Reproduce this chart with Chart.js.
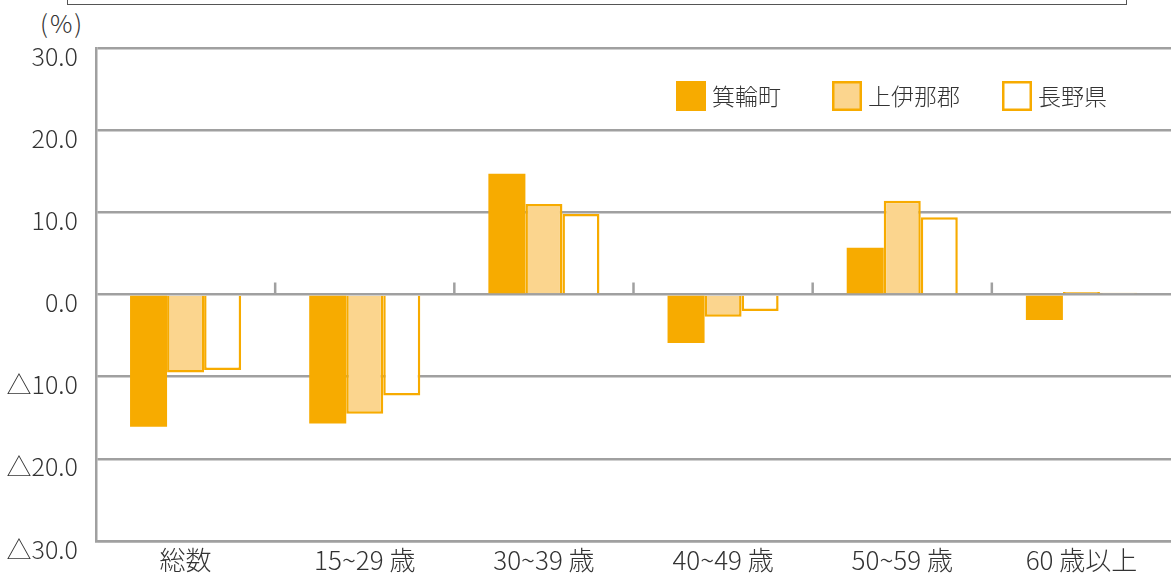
<!DOCTYPE html>
<html lang="ja">
<head>
<meta charset="utf-8">
<title>年齢別 増減率</title>
<script src="https://cdn.jsdelivr.net/npm/chart.js@4.4.1/dist/chart.umd.min.js"></script>
<style>
  html, body { margin: 0; padding: 0; background: #fff; }
  #wrap { position: relative; width: 1171px; height: 576px; overflow: hidden; }
  #titleBox { position: absolute; left: 67px; top: -40px; width: 1058px; height: 43px; border: 1.5px solid #555; }
  #unit { position: absolute; left: 40px; top: 4px; font: 300 25px "Noto Sans CJK JP"; color: #333; letter-spacing: 2px; }
  #chart { position: absolute; left: 0; top: 0; }
</style>
</head>
<body>
<div id="wrap">
  <div id="titleBox"></div>
  <div id="unit">(%)</div>
  <canvas id="chart" width="1171" height="576"></canvas>
</div>
<script>
const categories = ["総数", "15~29 歳", "30~39 歳", "40~49 歳", "50~59 歳", "60 歳以上"];
const seriesNames = ["箕輪町", "上伊那郡", "長野県"];
const minowa = [-16.1, -15.7, 14.7, -5.9, 5.7, -3.1];
const kamiina = [-9.5, -14.5, 11.0, -2.7, 11.4, 0.3];
const nagano = [-9.2, -12.3, 9.8, -2.0, 9.4, 0.2];
const yTicks = [-30, -20, -10, 0, 10, 20, 30];

const ORANGE = "#f7ab00";
const LIGHT = "#fbd58e";
const GRID = "#a0a0a0";
const TEXT = "#333";
const FONT = '"Noto Sans CJK JP", "Noto Sans", sans-serif';

function fmt(v) {
  return (v < 0 ? "△" : "") + Math.abs(v).toFixed(1);
}

// short marks on the zero line between age groups
const groupTicks = {
  id: "groupTicks",
  afterDraw(chart) {
    const x = chart.scales.x, y = chart.scales.y;
    const ctx = chart.ctx;
    const y0 = y.getPixelForValue(0);
    ctx.save();
    ctx.strokeStyle = GRID;
    ctx.lineWidth = 2.5;
    for (let i = 1; i < categories.length; i++) {
      const px = (x.getPixelForValue(i - 1) + x.getPixelForValue(i)) / 2;
      ctx.beginPath();
      ctx.moveTo(px, y0 - 12);
      ctx.lineTo(px, y0);
      ctx.stroke();
    }
    ctx.restore();
  }
};

// legend boxes inside the plot, top right
const boxLegend = {
  id: "boxLegend",
  afterDraw(chart) {
    const ctx = chart.ctx;
    const xs = [676, 832, 1002];
    const top = 81, size = 30;
    ctx.save();
    ctx.font = "300 23px " + FONT;
    ctx.textBaseline = "middle";
    chart.data.datasets.forEach((ds, i) => {
      const bw = ds.borderWidth || 0;
      ctx.fillStyle = ds.backgroundColor;
      ctx.fillRect(xs[i], top, size, size);
      if (bw) {
        ctx.strokeStyle = ds.borderColor;
        ctx.lineWidth = bw;
        ctx.strokeRect(xs[i] + bw / 2, top + bw / 2, size - bw, size - bw);
      }
      ctx.fillStyle = TEXT;
      ctx.fillText(ds.label, xs[i] + size + 6, top + size / 2);
    });
    ctx.restore();
  }
};

new Chart(document.getElementById("chart"), {
  type: "bar",
  data: {
    labels: categories,
    datasets: [
      { label: seriesNames[0], data: minowa, backgroundColor: ORANGE, borderColor: ORANGE, borderWidth: 0 },
      { label: seriesNames[1], data: kamiina, backgroundColor: LIGHT, borderColor: ORANGE, borderWidth: 2.5 },
      { label: seriesNames[2], data: nagano, backgroundColor: "#fff", borderColor: ORANGE, borderWidth: 2.5 }
    ]
  },
  options: {
    responsive: false,
    animation: false,
    layout: { padding: { top: 48, right: 0, left: 0, bottom: 0 } },
    datasets: { bar: { categoryPercentage: 0.62, barPercentage: 1 } },
    plugins: { legend: { display: false }, tooltip: { enabled: false } },
    scales: {
      x: {
        grid: { display: false },
        border: { color: GRID, width: 2.5 },
        ticks: { color: TEXT, font: { family: FONT, size: 26, weight: 300 }, padding: -4 },
        afterFit(scale) { scale.height = 35; }
      },
      y: {
        min: -30,
        max: 30,
        afterBuildTicks(scale) { scale.ticks = yTicks.map(v => ({ value: v })); },
        grid: { color: GRID, lineWidth: 2.5, drawTicks: false },
        border: { color: GRID, width: 2.5 },
        ticks: {
          color: TEXT,
          font: { family: FONT, size: 25, weight: 300 },
          padding: 18,
          labelOffset: 8,
          callback: v => fmt(v)
        },
        afterFit(scale) { scale.width = 96; }
      }
    }
  },
  plugins: [groupTicks, boxLegend]
});
</script>
</body>
</html>
